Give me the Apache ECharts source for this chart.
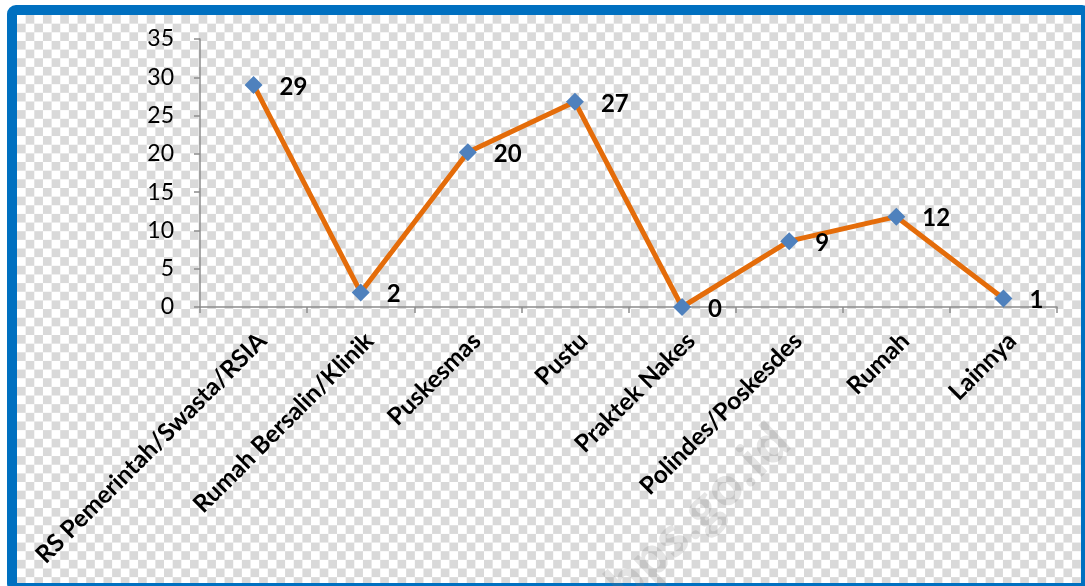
<!DOCTYPE html>
<html>
<head>
<meta charset="utf-8">
<script src="https://cdn.jsdelivr.net/npm/echarts@6/dist/echarts.min.js"></script>
<style>
  html, body { margin: 0; padding: 0; background: #ffffff; width: 1085px; height: 586px; overflow: hidden; }
  #frame {
    position: absolute; left: 7px; top: 5px; width: 1064px; height: 568px;
    border: 10px solid #0070C0; border-radius: 9px;
    background: repeating-conic-gradient(#d9d9d9 0% 25%, #ffffff 0% 50%) 0 0 / 17.3px 17.3px;
  }
  #chart { position: absolute; left: 0; top: 0; width: 1085px; height: 586px; }
</style>
</head>
<body>
<div id="frame"></div>
<div id="chart"></div>
<script>
const categories = [
  'RS Pemerintah/Swasta/RSIA',
  'Rumah Bersalin/Klinik',
  'Puskesmas',
  'Pustu',
  'Praktek Nakes',
  'Polindes/Poskesdes',
  'Rumah',
  'Lainnya'
];
const values = [29.0, 1.9, 20.2, 26.8, 0.0, 8.6, 11.8, 1.1];
const yTicks = { min: 0, max: 35, interval: 5 };
const watermarkText = 'bps.go.id';

const chart = echarts.init(document.getElementById('chart'), null, { renderer: 'canvas' });
chart.setOption({
  backgroundColor: 'transparent',
  animation: false,
  grid: { left: 200, right: 28, top: 39, bottom: 279, containLabel: false },
  xAxis: {
    type: 'category',
    data: categories,
    boundaryGap: true,
    axisLine: { show: true, lineStyle: { color: '#8c8c8c', width: 1.5 } },
    axisTick: { show: true, length: 6, alignWithLabel: false, lineStyle: { color: '#8c8c8c', width: 1.5 } },
    axisLabel: {
      rotate: 45, interval: 0, margin: 21,
      fontFamily: 'Lato', fontWeight: 'bold', fontSize: 24.5, color: '#000000',
      verticalAlign: 'top'
    },
    splitLine: { show: false }
  },
  yAxis: {
    type: 'value',
    min: yTicks.min, max: yTicks.max, interval: yTicks.interval,
    axisLine: { show: true, lineStyle: { color: '#8c8c8c', width: 1.5 } },
    axisTick: { show: true, length: 6, lineStyle: { color: '#8c8c8c', width: 1.5 } },
    axisLabel: { margin: 26, fontFamily: 'Lato', fontSize: 23, color: '#000000' },
    splitLine: { show: false }
  },
  graphic: [{
    type: 'text', z: 0,
    x: 700, y: 515, rotation: 0.76,
    style: {
      text: watermarkText, fill: 'rgba(120,120,120,0.2)',
      font: 'bold 52px "Open Sans"', align: 'center', verticalAlign: 'middle'
    }
  }],
  series: [{
    type: 'line',
    data: values,
    z: 5,
    lineStyle: { color: '#E46C0A', width: 5 },
    symbol: 'diamond', symbolSize: 18,
    itemStyle: { color: '#4F81BD' },
    label: {
      show: true, position: 'right', distance: 17, offset: [0, 2],
      fontFamily: 'Lato', fontWeight: 'bold', fontSize: 24, color: '#000000',
      formatter: p => String(Math.round(p.value))
    }
  }]
});
</script>
</body>
</html>
